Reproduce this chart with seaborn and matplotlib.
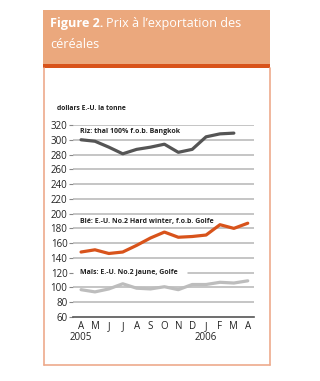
import numpy as np
import pandas as pd
import matplotlib
matplotlib.use("Agg")
import matplotlib.pyplot as plt
from matplotlib.patches import Rectangle
from matplotlib.lines import Line2D
import seaborn as sns

# data (dollars E.-U. la tonne), Apr 2005 - Apr 2006
months = ["A", "M", "J", "J", "A", "S", "O", "N", "D", "J", "F", "M", "A"]
riz = [300, 298, 290, 281, 287, 290, 294, 283, 287, 304, 308, 309, np.nan]
ble = [148, 151, 146, 148, 157, 167, 175, 168, 169, 171, 185, 180, 187]
mais = [97, 94, 98, 105, 99, 98, 101, 97, 104, 104, 107, 106, 109]
yticks = list(range(60, 321, 20))

df = pd.DataFrame({"x": np.arange(len(months)), "riz": riz, "ble": ble, "mais": mais})
df = df.melt(id_vars="x", var_name="serie", value_name="prix")

sns.set_theme(style="white")
plt.rcParams["font.family"] = ["Open Sans", "DejaVu Sans"]

fig = plt.figure(figsize=(3.2, 3.81), dpi=100)
W, H = 320, 381

def fx(px):
    return px / W

def fy(py):
    return 1 - py / H

# title band and frame
fig.patches.append(Rectangle((fx(43), fy(64)), fx(227), 54 / H, transform=fig.transFigure,
                             facecolor="#EBA87D", edgecolor="none", zorder=0))
fig.patches.append(Rectangle((fx(43), fy(68)), fx(227), 4 / H, transform=fig.transFigure,
                             facecolor="#D8531B", edgecolor="none", zorder=0))
for (x0, y0, x1, y1) in [(43.5, 68, 43.5, 365), (269.5, 68, 269.5, 365), (43.5, 365, 269.5, 365)]:
    fig.lines.append(Line2D([fx(x0), fx(x1)], [fy(y0), fy(y1)], transform=fig.transFigure,
                            color="#EDAA8C", lw=1.2))

ax_left, ax_right = 73, 254
ax = fig.add_axes([fx(ax_left), fy(317), fx(ax_right - ax_left), (317 - 125) / H])
palette = {"riz": "#555555", "ble": "#D8531B", "mais": "#BDBDBD"}
sns.lineplot(data=df, x="x", y="prix", hue="serie", palette=palette, ax=ax,
             lw=2.3, legend=False, zorder=3)

ax.set_xlim(-0.58, 12.45)
ax.set_ylim(60, 320)
ax.set_yticks(yticks)
ax.set_xticks(range(len(months)))
ax.set_xticklabels(months)
for y in yticks[1:]:
    if y == 120:
        # gridline broken by the Maïs label
        ax.axhline(y, xmin=(188 - ax_left) / (ax_right - ax_left), color="#B5B5B5", lw=1.1, zorder=1)
    else:
        ax.axhline(y, color="#B5B5B5", lw=1.1, zorder=1)
for s in ["top", "right", "left"]:
    ax.spines[s].set_visible(False)
ax.spines["bottom"].set_color("#555555")
ax.spines["bottom"].set_linewidth(1.2)
ax.tick_params(axis="x", direction="in", length=5, width=1, color="#444444",
               labelsize=7, pad=3, labelcolor="#222222")
ax.tick_params(axis="y", direction="out", length=3, width=0.8, color="#888888",
               labelsize=7, pad=1, labelcolor="#222222", left=True)
ax.set_xlabel("")
ax.set_ylabel("")

# year labels
ax.text(0, -0.078, "2005", transform=ax.get_xaxis_transform(), ha="center", va="top",
        fontsize=7, color="#222222")
ax.text(9, -0.078, "2006", transform=ax.get_xaxis_transform(), ha="center", va="top",
        fontsize=7, color="#222222")

# series labels
lab = dict(fontsize=5.0, fontweight="bold", color="#222222", va="center", ha="left")
ax.text(-0.1, 311, "Riz: thaï 100% f.o.b. Bangkok", **lab)
ax.text(-0.1, 189, "Blé: E.-U. No.2 Hard winter, f.o.b. Golfe", **lab)
ax.text(-0.05, 120, "Maïs: E.-U. No.2 jaune, Golfe", zorder=4, **lab)
fig.text(fx(57), fy(108), "dollars E.-U. la tonne", fontsize=4.9, fontweight="bold",
         color="#222222", va="center", ha="left")

# title
t1 = fig.text(fx(50), fy(24), "Figure 2.", fontsize=9.1, fontweight="bold", color="white",
              va="center", ha="left")
fig.canvas.draw()
bb = t1.get_window_extent(fig.canvas.get_renderer())
fig.text(bb.x1 / W + fx(3), fy(24), "Prix à l\u2019exportation des", fontsize=9.1,
         color="white", va="center", ha="left")
fig.text(fx(50), fy(44), "céréales", fontsize=9.1, color="white", va="center", ha="left")

fig.savefig("out.png", dpi=100)
